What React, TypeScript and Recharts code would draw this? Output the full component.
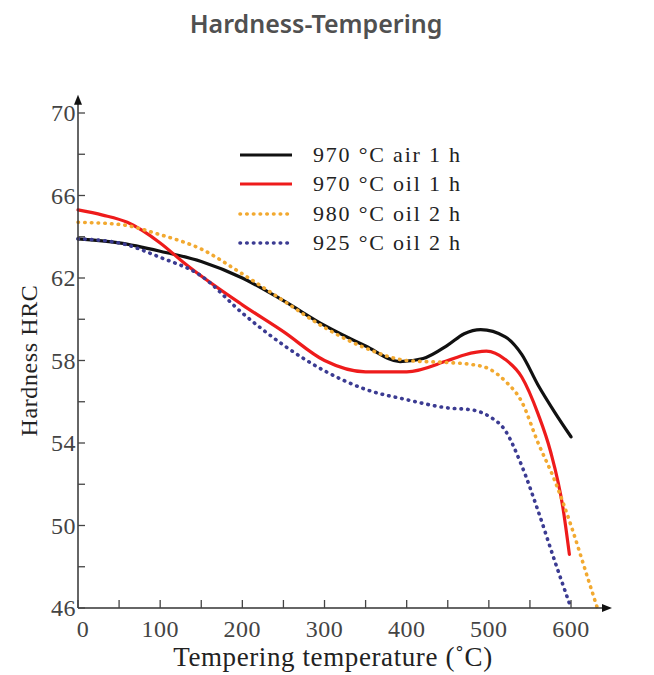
import { LineChart, Line, XAxis, YAxis, ReferenceLine, ReferenceDot } from "recharts";

const airTemps = [0, 50, 100, 150, 200, 250, 300, 350, 392, 420, 450, 470, 490, 520, 540, 560, 580, 600];
const airHard = [63.9, 63.7, 63.3, 62.8, 62.0, 60.9, 59.7, 58.7, 57.95, 58.1, 58.75, 59.3, 59.5, 59.15, 58.3, 56.8, 55.5, 54.3];

const oil1Temps = [0, 30, 60, 100, 130, 200, 250, 300, 350, 400, 450, 470, 497, 520, 540, 560, 575, 590, 598];
const oil1Hard = [65.3, 65.05, 64.7, 63.7, 62.7, 60.7, 59.4, 58.0, 57.45, 57.45, 58.0, 58.27, 58.45, 58.05, 57.2, 55.4, 53.6, 50.9, 48.6];

const oil2Temps = [0, 50, 100, 150, 200, 250, 300, 350, 400, 450, 480, 500, 520, 540, 560, 580, 600, 620, 632];
const oil2Hard = [64.7, 64.6, 64.1, 63.4, 62.2, 60.9, 59.6, 58.6, 58.0, 57.9, 57.8, 57.6, 57.0, 56.0, 54.0, 52.2, 50.0, 47.5, 46.0];

const low2Temps = [0, 50, 100, 150, 200, 250, 300, 350, 400, 450, 480, 500, 520, 540, 560, 580, 600];
const low2Hard = [63.9, 63.7, 63.0, 62.1, 60.3, 58.75, 57.5, 56.6, 56.1, 55.7, 55.6, 55.3, 54.6, 52.9, 50.7, 48.3, 46.0];

const xTicks = [0, 50, 100, 150, 200, 250, 300, 350, 400, 450, 500, 550, 600];
const yTicks = [46, 48, 50, 52, 54, 56, 58, 60, 62, 64, 66, 68, 70];

const toRows = (temps: number[], vals: number[]) => temps.map((t, i) => ({ t, h: vals[i] }));

const series = [
  { name: "970 °C air 1 h", data: toRows(airTemps, airHard), color: "#111111", dash: undefined as string | undefined, width: 3.2 },
  { name: "970 °C oil 1 h", data: toRows(oil1Temps, oil1Hard), color: "#ee1b1b", dash: undefined as string | undefined, width: 3.2 },
  { name: "980 °C oil 2 h", data: toRows(oil2Temps, oil2Hard), color: "#f2a930", dash: "0.5 6.2", width: 3.6 },
  { name: "925 °C oil 2 h", data: toRows(low2Temps, low2Hard), color: "#3b3b92", dash: "0.5 6.2", width: 3.6 },
];

const serif = "'Liberation Serif', 'DejaVu Serif', serif";

const YTick = (props: any) => {
  const { x, y, payload } = props;
  const v = payload.value;
  const ax = x + 4;
  return (
    <g>
      <line x1={ax} y1={y} x2={ax + 7} y2={y} stroke="#444" strokeWidth={1.3} />
      {v % 4 === 2 && (
        <text x={ax - 2} y={y + 8} textAnchor="end" fontFamily={serif} fontSize={24} letterSpacing={0.5} fill="#444">
          {v}
        </text>
      )}
    </g>
  );
};

const XTick = (props: any) => {
  const { x, y, payload } = props;
  const v = payload.value;
  return (
    <g>
      <line x1={x} y1={y} x2={x} y2={y - 8} stroke="#444" strokeWidth={1.3} />
      {v % 100 === 0 && (
        <text x={x + (v === 0 ? 5 : 0)} y={y + 29} textAnchor="middle" fontFamily={serif} fontSize={24} letterSpacing={0.5} fill="#444">
          {v}
        </text>
      )}
    </g>
  );
};

const LegendBox = () => (
  <div style={{ position: "absolute", left: 236, top: 140, fontFamily: serif, fontSize: 22, letterSpacing: 1.8, color: "#222" }}>
    {series.map((s) => (
      <div key={s.name} style={{ display: "flex", alignItems: "center", height: 29.5 }}>
        <svg width={62} height={12}>
          <line x1={4} y1={6} x2={56} y2={6} stroke={s.color} strokeWidth={s.width} strokeDasharray={s.dash} strokeLinecap={s.dash ? "round" : "butt"} />
        </svg>
        <span style={{ marginLeft: 15, whiteSpace: "nowrap" }}>{s.name}</span>
      </div>
    ))}
  </div>
);

export default function App() {
  return (
    <div style={{ position: "absolute", left: 0, top: 0, width: 654, height: 675, background: "#fff" }}>
      <div
        style={{
          position: "absolute",
          left: 0,
          top: 6,
          width: 632,
          textAlign: "center",
          fontFamily: "'Noto Sans', sans-serif",
          fontWeight: 600,
          fontSize: 25,
          color: "#505050",
        }}
      >
        Hardness-Tempering
      </div>
      <LineChart width={654} height={675} margin={{ top: 113, right: 46, bottom: 7, left: 18 }}>
        <XAxis
          type="number"
          dataKey="t"
          domain={[0, 645]}
          ticks={xTicks}
          interval={0}
          tickLine={false}
          tickSize={0}
          tickMargin={0}
          tick={<XTick />}
          height={60}
          axisLine={{ stroke: "#333", strokeWidth: 1.5 }}
          label={{
            value: "Tempering temperature (˚C)",
            position: "insideBottom",
            offset: 2,
            dx: -10,
            style: { fontFamily: serif, fontSize: 27, fill: "#222", letterSpacing: 0.6 },
          }}
        />
        <YAxis
          type="number"
          domain={[46, 70]}
          ticks={yTicks}
          interval={0}
          tickLine={false}
          tickSize={0}
          tickMargin={4}
          tick={<YTick />}
          width={60}
          axisLine={{ stroke: "#333", strokeWidth: 1.5 }}
          label={{
            value: "Hardness HRC",
            angle: -90,
            position: "insideLeft",
            offset: 10,
            style: { fontFamily: serif, fontSize: 24, fill: "#222", letterSpacing: 0.6, textAnchor: "middle" },
          }}
        />
        <ReferenceLine segment={[{ x: 0, y: 70 }, { x: 0, y: 70.5 }]} stroke="#333" strokeWidth={1.5} ifOverflow="visible" />
        <ReferenceDot
          x={0}
          y={70.6}
          ifOverflow="visible"
          shape={(p: any) => <path d={`M${p.cx},${p.cy - 6} L${p.cx - 4},${p.cy + 4} L${p.cx + 4},${p.cy + 4} Z`} fill="#111" />}
        />
        <ReferenceDot
          x={645}
          y={46}
          ifOverflow="visible"
          shape={(p: any) => <path d={`M${p.cx + 4},${p.cy} L${p.cx - 6},${p.cy - 4} L${p.cx - 6},${p.cy + 4} Z`} fill="#111" />}
        />
        {series.map((s) => (
          <Line
            key={s.name}
            data={s.data}
            dataKey="h"
            name={s.name}
            type="monotone"
            stroke={s.color}
            strokeWidth={s.width}
            strokeDasharray={s.dash}
            strokeLinecap="round"
            dot={false}
            activeDot={false}
            isAnimationActive={false}
          />
        ))}
      </LineChart>
      <LegendBox />
    </div>
  );
}
